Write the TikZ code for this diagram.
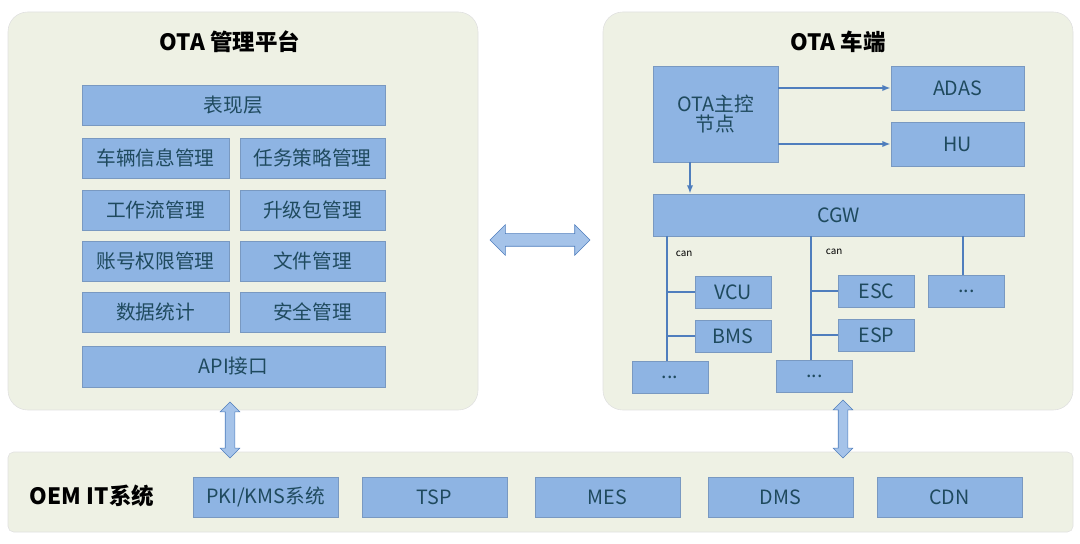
\documentclass[tikz,border=0pt]{standalone}
\usepackage{fontspec}
\setmainfont{Noto Sans CJK SC}
\usepackage{xcolor}
\usetikzlibrary{shapes.arrows,arrows.meta}
\definecolor{panel}{HTML}{EEF1E4}
\definecolor{boxblue}{HTML}{8EB4E3}
\definecolor{boxtext}{HTML}{1F4A5E}
\definecolor{lineblue}{HTML}{4F7EBD}
\tikzset{
  panelbox/.style={fill=panel,draw=black!12,rounded corners=14pt},
  blk/.style={fill=boxblue,draw=boxblue!85!black,line width=0.3pt,text=boxtext,font=\fontsize{14}{14}\selectfont},
  fat/.style={double arrow,fill=boxblue!80,draw=lineblue,inner xsep=0pt,minimum height=#1},
  bus/.style={lineblue,line width=2pt}
}
\newcommand{\ecudots}{...}
\begin{document}
\begin{tikzpicture}[x=0.025cm,y=-0.025cm]
\useasboundingbox (0,0) rectangle (1080,544);
% panels
\draw[panelbox] (8,12) rectangle (478,410);
\draw[panelbox] (603,12) rectangle (1073,410);
\draw[fill=panel,draw=black!12,rounded corners=4pt] (8,452) rectangle (1073,532);
\node[font=\bfseries\fontsize{16}{16}\selectfont] (ltitle) at (230,42) {OTA 管理平台};
\node[font=\bfseries\fontsize{16}{16}\selectfont] (rtitle) at (838,42) {OTA 车端};
\node[font=\bfseries\fontsize{16}{16}\selectfont] (oem) at (92,496) {OEM IT系统};

% management platform
\node[blk,minimum width=303*0.025cm,minimum height=40*0.025cm,inner sep=0pt] (view) at (233.5,105) {表现层};
\foreach \l/\r/\y [count=\i] in {车辆信息管理/任务策略管理/158,工作流管理/升级包管理/210,账号权限管理/文件管理/261,数据统计/安全管理/312}{
  \node[blk,minimum width=147*0.025cm,minimum height=40*0.025cm,inner sep=0pt] (l\i) at (155.5,\y) {\l};
  \node[blk,minimum width=145*0.025cm,minimum height=40*0.025cm,inner sep=0pt] (r\i) at (312.5,\y) {\r};
}
\node[blk,minimum width=303*0.025cm,minimum height=41*0.025cm,inner sep=0pt] (api) at (233.5,366.5) {API接口};

% vehicle side
\node[blk,minimum width=125*0.025cm,minimum height=96*0.025cm,inner sep=0pt,align=center] (master) at (715.5,114) {OTA主控\\节点};
\node[blk,minimum width=133*0.025cm,minimum height=44*0.025cm,inner sep=0pt] (adas) at (957.5,88) {ADAS};
\node[blk,minimum width=133*0.025cm,minimum height=44*0.025cm,inner sep=0pt] (hu) at (957.5,144) {HU};
\node[blk,minimum width=371*0.025cm,minimum height=42*0.025cm,inner sep=0pt] (cgw) at (838.5,215) {CGW};
\foreach \n/\t/\x/\y in {vcu/VCU/733/292,bms/BMS/733/336,dotsa/\ecudots/670/377,esc/ESC/876.5/291,esp/ESP/876.5/335,dotsb/\ecudots/814.5/376,dotsc/\ecudots/966.5/291}
  \node[blk,minimum width=76*0.025cm,minimum height=32*0.025cm,inner sep=0pt] (\n) at (\x,\y) {\t};

\draw[lineblue,line width=1.5pt,-{Latex[length=6pt]}] (master.east|-adas) -- (adas.west);
\draw[lineblue,line width=1.5pt,-{Latex[length=6pt]}] (master.east|-hu) -- (hu.west);
\coordinate (mdown) at (690,162);
\draw[lineblue,line width=1.5pt,-{Latex[length=6pt]}] (mdown) -- (mdown|-cgw.north);

% can buses
\coordinate (busa) at (667,236);
\coordinate (busb) at (811,236);
\coordinate (busc) at (963,236);
\draw[bus] (busa) -- (busa|-dotsa.north);
\draw[bus] (busb) -- (busb|-dotsb.north);
\draw[bus] (busc) -- (busc|-dotsc.north);
\draw[bus] (busa|-vcu) -- (vcu.west);
\draw[bus] (busa|-bms) -- (bms.west);
\draw[bus] (busb|-esc) -- (esc.west);
\draw[bus] (busb|-esp) -- (esp.west);
\node[font=\fontsize{7}{7}\selectfont,anchor=west] (cana) at (671,254) {can};
\node[font=\fontsize{7}{7}\selectfont,anchor=west] (canb) at (821,252) {can};

% oem systems
\foreach \n/\t/\x in {pki/{PKI/KMS系统}/265.5,tsp/TSP/434.5,mes/MES/607.5,dms/DMS/780.5,cdn/CDN/949.5}
  \node[blk,minimum width=145*0.025cm,minimum height=40*0.025cm,inner sep=0pt] (\n) at (\x,497) {\t};

% big arrows
\node[fat=100*0.025cm,inner ysep=6*0.025cm,double arrow head extend=9*0.025cm] (link) at (540,240) {};
\node[fat=56*0.025cm,inner ysep=4.5*0.025cm,double arrow head extend=5*0.025cm,rotate=90] (linkl) at (230,430) {};
\node[fat=58*0.025cm,inner ysep=4.5*0.025cm,double arrow head extend=5*0.025cm,rotate=90] (linkr) at (843,429) {};
\end{tikzpicture}
\end{document}
